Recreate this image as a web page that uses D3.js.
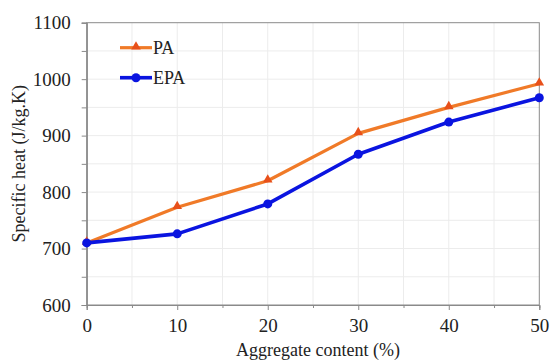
<!DOCTYPE html>
<html>
<head>
<meta charset="utf-8">
<script src="https://cdn.jsdelivr.net/npm/d3@7"></script>
<style>
  html, body { margin: 0; padding: 0; background: #fff; }
  svg { display: block; }
  svg text { font-family: "Liberation Serif", "Times New Roman", Times, serif; fill: #222; }
</style>
</head>
<body>
<svg id="chart" width="550" height="362"></svg>
<script>
// Specific heat vs. aggregate content
const aggregate = [0, 10, 20, 30, 40, 50];
const paValues  = [710, 773, 820, 904, 950, 992];
const epaValues = [710, 726, 779, 867, 924, 967];
const seriesNames = ["PA", "EPA"];
const xTicks = [0, 10, 20, 30, 40, 50];
const yTicks = [600, 700, 800, 900, 1000, 1100];

const SERIF = '"Liberation Serif", "Times New Roman", Times, serif';
const svg = d3.select("#chart");
const W = 550, H = 362;
const margin = { left: 86.7, right: W - 539.3, top: 22.7, bottom: H - 305 };

const x = d3.scaleLinear().domain([0, 50]).range([margin.left, W - margin.right]);
const y = d3.scaleLinear().domain([600, 1100]).range([H - margin.bottom, margin.top]);

// light grid
const grid = svg.append("g").attr("stroke", "#ececec").attr("stroke-width", 1);
d3.range(5, 50, 5).forEach(v => {
  grid.append("line").attr("x1", x(v)).attr("x2", x(v)).attr("y1", y(600)).attr("y2", y(1100));
});
d3.range(650, 1100, 50).forEach(v => {
  grid.append("line").attr("x1", x(0)).attr("x2", x(50)).attr("y1", y(v)).attr("y2", y(v));
});

// frame
svg.append("rect")
  .attr("x", x(0)).attr("y", y(1100))
  .attr("width", x(50) - x(0)).attr("height", y(600) - y(1100))
  .attr("fill", "none").attr("stroke", "#8a8a8a").attr("stroke-width", 1);

// axes
const xAxis = svg.append("g")
  .attr("transform", `translate(0,${y(600)})`)
  .call(d3.axisBottom(x).tickValues(xTicks).tickFormat(d3.format("d")).tickSize(5).tickPadding(9));
const xMinor = svg.append("g")
  .attr("transform", `translate(0,${y(600)})`)
  .call(d3.axisBottom(x).tickValues(d3.range(5, 50, 10)).tickFormat("").tickSize(3));

const yAxis = svg.append("g")
  .attr("transform", `translate(${x(0)},0)`)
  .call(d3.axisLeft(y).tickValues(yTicks).tickFormat(d3.format("d")).tickSize(5).tickPadding(11));
const yMinor = svg.append("g")
  .attr("transform", `translate(${x(0)},0)`)
  .call(d3.axisLeft(y).tickValues(d3.range(650, 1100, 100)).tickFormat("").tickSize(5));

[xAxis, xMinor, yAxis, yMinor].forEach(g => {
  g.attr("font-family", null);
  g.select(".domain").attr("stroke", "#8a8a8a");
  g.selectAll(".tick line").attr("stroke", "#8a8a8a");
  g.selectAll(".tick text")
    .style("font-family", SERIF)
    .style("font-size", "19px").attr("fill", "#222");
});

// axis titles
svg.append("text")
  .attr("x", 318).attr("y", 356)
  .attr("text-anchor", "middle")
  .style("font-family", SERIF).style("font-size", "18px")
  .text("Aggregate content (%)");
svg.append("text")
  .attr("transform", `translate(25,${(y(600) + y(1100)) / 2}) rotate(-90)`)
  .attr("text-anchor", "middle")
  .style("font-family", SERIF).style("font-size", "18px")
  .text("Specific heat (J/kg.K)");

// series
const paColor = "#f07a28", paMarker = "#e8501a";
const epaColor = "#0a14e0";
const line = d3.line().x((d, i) => x(aggregate[i])).y(d => y(d));

svg.append("path").datum(paValues)
  .attr("d", line).attr("fill", "none")
  .attr("stroke", paColor).attr("stroke-width", 3.2).attr("stroke-linejoin", "round");
svg.append("path").datum(epaValues)
  .attr("d", line).attr("fill", "none")
  .attr("stroke", epaColor).attr("stroke-width", 3.6).attr("stroke-linejoin", "round");

const tri = d3.symbol().type(d3.symbolTriangle).size(40);
svg.append("g").selectAll("path").data(paValues).join("path")
  .attr("d", tri)
  .attr("transform", (d, i) => `translate(${x(aggregate[i])},${y(d) - 1})`)
  .attr("fill", paMarker);
svg.append("g").selectAll("circle").data(epaValues).join("circle")
  .attr("cx", (d, i) => x(aggregate[i])).attr("cy", d => y(d))
  .attr("r", 4.5).attr("fill", epaColor);

// legend
const legend = svg.append("g");
const legendRows = [
  { name: seriesNames[0], color: paColor, y: 47.7, w: 3.2 },
  { name: seriesNames[1], color: epaColor, y: 77.7, w: 3.6 }
];
legendRows.forEach((r, i) => {
  legend.append("line")
    .attr("x1", 120).attr("x2", 152).attr("y1", r.y).attr("y2", r.y)
    .attr("stroke", r.color).attr("stroke-width", r.w);
  if (i === 0) {
    legend.append("path").attr("d", tri)
      .attr("transform", `translate(136,${r.y - 1})`).attr("fill", paMarker);
  } else {
    legend.append("circle").attr("cx", 136).attr("cy", r.y).attr("r", 4.5).attr("fill", r.color);
  }
  legend.append("text")
    .attr("x", 153).attr("y", r.y + 6)
    .style("font-family", SERIF).style("font-size", "18px")
    .text(r.name);
});
</script>
</body>
</html>
